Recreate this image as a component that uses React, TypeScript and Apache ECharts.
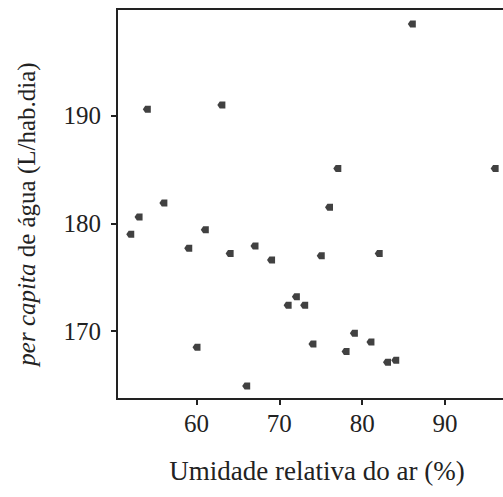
import React, { useEffect, useRef } from "react";
import * as echarts from "echarts";

const humidity = [86, 54, 63, 77, 96, 56, 76, 53, 52, 61, 59, 64, 67, 69, 75, 82, 71, 72, 73, 60, 74, 79, 78, 81, 83, 84, 66];
const consumption = [198.5, 190.6, 191.0, 185.1, 185.1, 181.9, 181.5, 180.6, 179.0, 179.4, 177.7, 177.2, 177.9, 176.6, 177.0, 177.2, 172.4, 173.2, 172.4, 168.5, 168.8, 169.8, 168.1, 169.0, 167.1, 167.3, 164.9];
const xTicks = [60, 70, 80, 90];
const yTicks = [170, 180, 190];

const FONT = "Liberation Serif";

export default function App() {
  const ref = useRef<HTMLDivElement>(null);
  useEffect(() => {
    document.body.style.margin = "0";
    const chart = echarts.init(ref.current!, null, { renderer: "svg" });
    const data = humidity.map((h, i) => [h, consumption[i]]);
    chart.setOption({
      animation: false,
      backgroundColor: "#fff",
      grid: {
        left: 117,
        top: 9,
        width: 400,
        height: 390,
        show: true,
        borderColor: "#222",
        borderWidth: 2,
        containLabel: false,
        outerBoundsMode: "none",
      },
      graphic: [
        {
          type: "text",
          x: 26,
          y: 214,
          rotation: Math.PI / 2,
          style: {
            text: "{i|per capita} {n|de água (L/hab.dia)}",
            align: "center",
            verticalAlign: "middle",
            fill: "#222",
            font: `25px "${FONT}"`,
            rich: {
              i: { fontFamily: FONT, fontSize: 25, fontStyle: "italic", fill: "#222" },
              n: { fontFamily: FONT, fontSize: 25, fill: "#222" },
            },
          },
        },
      ],
      xAxis: {
        type: "value",
        min: 50.4,
        max: 98.7,
        axisLine: { show: true, lineStyle: { color: "#222", width: 2 } },
        axisTick: { show: true, length: 6, lineStyle: { color: "#222", width: 2 }, customValues: xTicks },
        axisLabel: { color: "#222", fontFamily: FONT, fontSize: 25, margin: 12, customValues: xTicks },
        splitLine: { show: false },
        name: "Umidade relativa do ar (%)",
        nameLocation: "middle",
        nameGap: 58,
        nameTextStyle: { color: "#222", fontFamily: FONT, fontSize: 27 },
      },
      yAxis: {
        type: "value",
        min: 163.7,
        max: 199.9,
        axisLine: { show: true, lineStyle: { color: "#222", width: 2 } },
        axisTick: { show: true, length: 6, lineStyle: { color: "#222", width: 2 }, customValues: yTicks },
        axisLabel: { color: "#222", fontFamily: FONT, fontSize: 25, margin: 16, customValues: yTicks },
        splitLine: { show: false },
      },
      series: [
        {
          type: "scatter",
          data,
          symbol: "path://M0,5 L3,0 L10,0 L10,10 L3,10 Z",
          symbolSize: [8, 7],
          itemStyle: { color: "#111" },
        },
      ],
    });
    return () => chart.dispose();
  }, []);
  return <div ref={ref} style={{ width: 503, height: 497 }} />;
}
